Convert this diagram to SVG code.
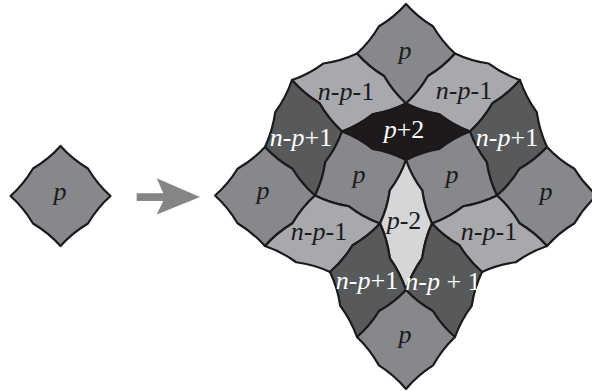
<svg xmlns="http://www.w3.org/2000/svg" width="592" height="391" viewBox="0 0 592 391">
<style>
.t{stroke:#1a1a1a;stroke-width:2.2;stroke-linejoin:round}
.p{fill:#87888c}
.a{fill:#a8a9ad}
.b{fill:#58595b}
.k{fill:#1e1a1b}
.w{fill:#d5d6d8}
.d{fill:#1a1a1a}
.l{fill:#ffffff}
.i{font-style:italic}
text{font-family:'Liberation Serif','Times New Roman',serif;font-size:26px;text-anchor:middle}
</style>
<rect width="592" height="391" fill="#ffffff"/>
<g id="node-small-p">
<path class="t p" d="M10.5,196 Q23.71,184.21 33.03,168.53 Q48.71,159.21 60.5,146 Q72.29,159.21 87.97,168.53 Q97.29,184.21 110.5,196 Q97.29,207.79 87.97,223.47 Q72.29,232.79 60.5,246 Q48.71,232.79 33.03,223.47 Q23.71,207.79 10.5,196Z"/>
<text class="d" x="60" y="200"><tspan class="i">p</tspan></text>
</g>
<g id="connectors">
<path d="M136.7,193.3 L163.3,193.3 L156.7,178.3 L200,197 L156.7,214.5 L163.3,201 L136.7,201 Z" fill="#858585"/>
</g>
<g id="node-top-p">
<path class="t p" d="M406,4 Q417.54,17.08 432.99,26.29 Q442.04,41.83 455,53.5 Q443.46,66.7 427.99,76.05 Q418.96,91.7 406,103.5 Q393.04,91.7 384.01,76.05 Q368.54,66.7 357,53.5 Q369.96,41.83 379.01,26.29 Q394.46,17.08 406,4Z"/>
<text class="d" x="405" y="59"><tspan class="i">p</tspan></text>
</g>
<g id="node-ul-npm1">
<path class="t a" d="M292,80 Q308.63,74.3 323.18,63.52 Q341.13,61.05 357,53.5 Q368.54,66.7 384.01,76.05 Q393.04,91.7 406,103.5 Q390.4,111.42 372.6,114.29 Q358.4,125.42 342,131.5 Q328.78,119.32 319.51,103.31 Q303.78,93.57 292,80Z"/>
<text class="d" x="346" y="100"><tspan class="i">n</tspan>-<tspan class="i">p</tspan>-1</text>
</g>
<g id="node-ur-npm1">
<path class="t a" d="M455,53.5 Q470.87,61.05 488.82,63.52 Q503.37,74.3 520,80 Q508.22,93.57 492.49,103.31 Q483.22,119.32 470,131.5 Q453.6,125.42 439.4,114.29 Q421.6,111.42 406,103.5 Q418.96,91.7 427.99,76.05 Q443.46,66.7 455,53.5Z"/>
<text class="d" x="464" y="99"><tspan class="i">n</tspan>-<tspan class="i">p</tspan>-1</text>
</g>
<g id="node-pp2">
<path class="t k" d="M406,103.5 Q421.6,111.42 439.4,114.29 Q453.6,125.42 470,131.5 Q453.59,137.71 439.43,148.94 Q421.59,151.96 406,160 Q390.41,151.96 372.57,148.94 Q358.41,137.71 342,131.5 Q358.4,125.42 372.6,114.29 Q390.4,111.42 406,103.5Z"/>
<text class="l" x="404" y="138"><tspan class="i">p</tspan>+2</text>
</g>
<g id="node-l-npp1">
<path class="t b" d="M292,80 Q303.78,93.57 319.51,103.31 Q328.78,119.32 342,131.5 Q336.17,147.89 325.28,162.14 Q322.67,179.89 315,195.5 Q301.8,184.1 292.44,168.74 Q276.8,159.85 265,147 Q272.68,130.62 275.25,112.2 Q286.18,97.12 292,80Z"/>
</g>
<g id="node-r-npp1">
<path class="t b" d="M520,80 Q525.82,97.12 536.75,112.2 Q539.32,130.62 547,147 Q535.2,159.85 519.56,168.74 Q510.2,184.1 497,195.5 Q489.33,179.89 486.72,162.14 Q475.83,147.89 470,131.5 Q483.22,119.32 492.49,103.31 Q508.22,93.57 520,80Z"/>
</g>
<g id="node-big-left-p">
<path class="t p" d="M215,195.5 Q228.2,184.1 237.56,168.74 Q253.2,159.85 265,147 Q276.8,159.85 292.44,168.74 Q301.8,184.1 315,195.5 Q301.79,207.42 292.49,223.21 Q276.79,232.67 265,246 Q253.21,232.67 237.51,223.21 Q228.21,207.42 215,195.5Z"/>
<text class="d" x="263" y="199"><tspan class="i">p</tspan></text>
</g>
<g id="node-big-right-p">
<path class="t p" d="M597,195.5 Q583.8,184.1 574.44,168.74 Q558.8,159.85 547,147 Q535.2,159.85 519.56,168.74 Q510.2,184.1 497,195.5 Q510.21,207.42 519.51,223.21 Q535.21,232.67 547,246 Q558.79,232.67 574.49,223.21 Q583.79,207.42 597,195.5Z"/>
<text class="d" x="546" y="200"><tspan class="i">p</tspan></text>
</g>
<g id="node-inner-left-p">
<path class="t p" d="M342,131.5 Q358.41,137.71 372.57,148.94 Q390.41,151.96 406,160 Q400.43,176.26 389.77,190.42 Q387.43,208.01 380,223.5 Q363.35,217.42 348.89,206.28 Q330.85,203.42 315,195.5 Q322.67,179.89 325.28,162.14 Q336.17,147.89 342,131.5Z"/>
<text class="d" x="359" y="183"><tspan class="i">p</tspan></text>
</g>
<g id="node-inner-right-p">
<path class="t p" d="M470,131.5 Q475.83,147.89 486.72,162.14 Q489.33,179.89 497,195.5 Q481.15,203.42 463.11,206.28 Q448.65,217.42 432,223.5 Q424.57,208.01 422.23,190.42 Q411.57,176.26 406,160 Q421.59,151.96 439.43,148.94 Q453.59,137.71 470,131.5Z"/>
<text class="d" x="452" y="183"><tspan class="i">p</tspan></text>
</g>
<g id="node-pm2">
<path class="t w" d="M406,160 Q411.57,176.26 422.23,190.42 Q424.57,208.01 432,223.5 Q424.57,239.76 422.26,258.02 Q411.57,273.01 406,290 Q400.43,273.01 389.74,258.02 Q387.43,239.76 380,223.5 Q387.43,208.01 389.77,190.42 Q400.43,176.26 406,160Z"/>
<text class="d" x="404" y="229"><tspan class="i">p</tspan>-2</text>
</g>
<g id="node-ll-npm1">
<path class="t a" d="M315,195.5 Q330.85,203.42 348.89,206.28 Q363.35,217.42 380,223.5 Q368.2,236.35 352.56,245.24 Q343.2,260.6 330,272 Q314.12,264.57 296.2,262.25 Q281.62,251.57 265,246 Q276.79,232.67 292.49,223.21 Q301.79,207.42 315,195.5Z"/>
<text class="d" x="319" y="240"><tspan class="i">n</tspan>-<tspan class="i">p</tspan>-1</text>
</g>
<g id="node-lr-npm1">
<path class="t a" d="M497,195.5 Q510.21,207.42 519.51,223.21 Q535.21,232.67 547,246 Q530.38,251.57 515.8,262.25 Q497.88,264.57 482,272 Q468.8,260.6 459.44,245.24 Q443.8,236.35 432,223.5 Q448.65,217.42 463.11,206.28 Q481.15,203.42 497,195.5Z"/>
<text class="d" x="489" y="240"><tspan class="i">n</tspan>-<tspan class="i">p</tspan>-1</text>
</g>
<g id="node-ll-npp1">
<path class="t b" d="M380,223.5 Q387.43,239.76 389.74,258.02 Q400.43,273.01 406,290 Q394.44,302.47 379.08,310.98 Q369.94,325.97 357,337 Q351.17,320.37 340.27,305.84 Q337.67,287.87 330,272 Q343.2,260.6 352.56,245.24 Q368.2,236.35 380,223.5Z"/>
</g>
<g id="node-lr-npp1">
<path class="t b" d="M432,223.5 Q443.8,236.35 459.44,245.24 Q468.8,260.6 482,272 Q474.33,287.87 471.73,305.84 Q460.83,320.37 455,337 Q442.06,325.97 432.92,310.98 Q417.56,302.47 406,290 Q411.57,273.01 422.26,258.02 Q424.57,239.76 432,223.5Z"/>
</g>
<g id="node-bottom-p">
<path class="t p" d="M406,290 Q417.56,302.47 432.92,310.98 Q442.06,325.97 455,337 Q442.02,349.31 433.05,365.41 Q417.52,375.31 406,389 Q394.48,375.31 378.95,365.41 Q369.98,349.31 357,337 Q369.94,325.97 379.08,310.98 Q394.44,302.47 406,290Z"/>
<text class="d" x="405" y="343"><tspan class="i">p</tspan></text>
</g>
<g id="labels-npp1">
<text class="l" x="301" y="146"><tspan class="i">n</tspan>-<tspan class="i">p</tspan>+1</text>
<text class="l" x="507" y="146"><tspan class="i">n</tspan>-<tspan class="i">p</tspan>+1</text>
<text class="l" x="367" y="289"><tspan class="i">n</tspan>-<tspan class="i">p</tspan>+1</text>
<text class="l" x="443" y="290" xml:space="preserve"><tspan class="i">n</tspan>-<tspan class="i">p</tspan> + 1</text>
</g>
</svg>
